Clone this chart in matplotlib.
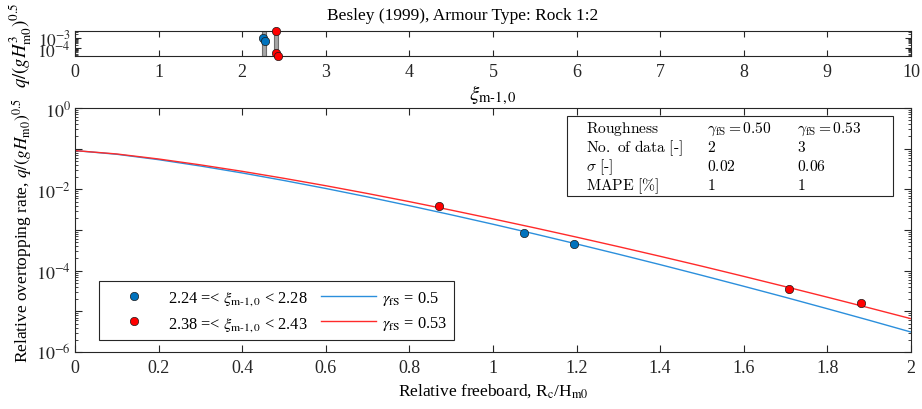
import numpy as np
import matplotlib
matplotlib.use("Agg")
import matplotlib.pyplot as plt
from matplotlib.patches import Rectangle
from matplotlib.ticker import LogLocator, FixedLocator, FuncFormatter, NullFormatter

plt.rcParams['font.family'] = ['Liberation Serif', 'DejaVu Serif']
plt.rcParams['mathtext.fontset'] = 'stix'
plt.rcParams['axes.linewidth'] = 0.8
plt.rcParams['axes.edgecolor'] = '#262626'
plt.rcParams['xtick.color'] = '#262626'
plt.rcParams['ytick.color'] = '#262626'

# curves (relative freeboard -> relative overtopping)
rc_curve = [0.0, 0.1, 0.2, 0.3, 0.4, 0.5, 0.6, 0.7, 0.8, 0.9, 1.0,
            1.1, 1.2, 1.3, 1.4, 1.5, 1.6, 1.7, 1.8, 1.9, 2.0]
q_g050 = [0.09, 0.0730, 0.0538, 0.0376, 0.02535, 0.01654, 0.01052, 0.00653,
          0.00397, 0.00237, 0.00139, 8.02e-4, 4.55e-4, 2.55e-4, 1.41e-4,
          7.68e-5, 4.14e-5, 2.21e-5, 1.16e-5, 6.04e-6, 3.1e-6]
q_g053 = [0.09, 0.0742, 0.0559, 0.0401, 0.0278, 0.0187, 0.0123, 0.00791,
          0.00499, 0.00309, 0.00188, 1.13e-3, 6.69e-4, 3.91e-4, 2.26e-4,
          1.29e-4, 7.25e-5, 4.04e-5, 2.23e-5, 1.22e-5, 6.6e-6]

# measured points
rc_blue = [1.074, 1.193]
q_blue = [8.3e-4, 4.5e-4]
xi_blue = [2.255, 2.27]
rc_red = [0.87, 1.709, 1.880]
q_red = [3.8e-3, 3.45e-5, 1.62e-5]
xi_red = [2.40, 2.40, 2.425]
xi_bins = [(2.24, 2.28), (2.38, 2.43)]

# statistics table (mathtext, computer modern)
table_rows = [r'$\mathrm{Roughness}$', r'$\mathrm{No.\ of\ data\ [\text{-}]}$',
              r'$\sigma\ \mathrm{[\text{-}]}$', r'$\mathrm{MAPE\ [\%]}$']
table_g050 = [r'$\gamma_{\mathrm{fS}} = 0.50$', '$2$', '$0.02$', '$1$']
table_g053 = [r'$\gamma_{\mathrm{fS}} = 0.53$', '$3$', '$0.06$', '$1$']

c_blue = '#0072BD'
c_red = '#FF0000'
c_bline = '#2b8fdc'
c_rline = '#ff2a2a'

fig = plt.figure(figsize=(9.22, 4.10), dpi=100)
ax0 = fig.add_axes([0.0813, 0.860, 0.9067, 0.061])
ax = fig.add_axes([0.0813, 0.139, 0.9067, 0.595])

# ---- top panel: xi vs q ----
ylo, yhi = min(q_red + q_blue), max(q_red + q_blue)
for a, b in xi_bins:
    ax0.add_patch(Rectangle((a, ylo), b - a, yhi - ylo, facecolor='#a6a6a6',
                            edgecolor='#6e6e6e', lw=0.8, zorder=2))
ax0.plot(xi_blue, q_blue, 'o', color=c_blue, mec='#1a1a1a', mew=0.5, ms=6, zorder=3, clip_on=False)
ax0.plot(xi_red, q_red, 'o', color=c_red, mec='#1a1a1a', mew=0.5, ms=6, zorder=3, clip_on=False)
ax0.set_yscale('log')
ax0.set_xlim(0, 10)
ax0.set_ylim(ylo, yhi)
ax0.set_xticks(range(0, 11))
ax0.yaxis.set_major_locator(FixedLocator([1e-4, 1e-3]))
ax0.yaxis.set_major_formatter(FuncFormatter(lambda v, p: r'$10^{%d}$' % round(np.log10(v))))
ax0.yaxis.set_minor_locator(LogLocator(base=10, subs=np.arange(2, 10), numticks=20))
ax0.yaxis.set_minor_formatter(NullFormatter())
ax0.tick_params(direction='in', top=True, right=True, labelsize=13, length=4, pad=5)
ax0.tick_params(axis='y', labelsize=12.5, pad=3)
ax0.tick_params(which='minor', direction='in', right=True, length=2)
ax0.set_title('Besley (1999), Armour Type: Rock 1:2', fontsize=12.5, x=0.464, y=1.0, pad=9)
ax0.set_xlabel(r'$\xi_{\mathrm{m}\text{-}1,0}$', fontsize=15, labelpad=2)
ax0.set_ylabel(r'$q/(gH^3_{\mathrm{m0}})^{0.5}$', fontsize=13.5, labelpad=2)

# ---- main panel ----
ax.plot(rc_blue, q_blue, 'o', color=c_blue, mec='#1a1a1a', mew=0.5, ms=6, zorder=4,
        label=r'2.24 =< $\xi_{\mathrm{m}\text{-}1,0}$ < 2.28')
ax.plot(rc_red, q_red, 'o', color=c_red, mec='#1a1a1a', mew=0.5, ms=6, zorder=4,
        label=r'2.38 =< $\xi_{\mathrm{m}\text{-}1,0}$ < 2.43')
ax.plot(rc_curve, q_g050, '-', color=c_bline, lw=1.0, label=r'$\gamma_{\mathrm{fS}}$ = 0.5')
ax.plot(rc_curve, q_g053, '-', color=c_rline, lw=1.0, label=r'$\gamma_{\mathrm{fS}}$ = 0.53')
ax.set_yscale('log')
ax.set_xlim(0, 2)
ax.set_ylim(1e-6, 1)
ax.set_xticks(np.arange(0, 2.01, 0.2))
ax.xaxis.set_major_formatter(FuncFormatter(lambda v, p: '%g' % round(v, 1)))
ax.yaxis.set_major_locator(FixedLocator([1e-6, 1e-5, 1e-4, 1e-3, 1e-2, 1e-1, 1]))
ax.yaxis.set_major_formatter(FuncFormatter(
    lambda v, p: (r'$10^{%d}$' % round(np.log10(v))) if round(np.log10(v)) % 2 == 0 else ''))
ax.yaxis.set_minor_locator(LogLocator(base=10, subs=np.arange(2, 10), numticks=20))
ax.yaxis.set_minor_formatter(NullFormatter())
ax.tick_params(direction='in', top=True, right=True, labelsize=13, length=5, pad=5)
ax.tick_params(axis='y', pad=3)
ax.tick_params(which='minor', direction='in', right=True, length=2.5)
ax.set_xlabel(r'Relative freeboard, R$_\mathrm{c}$/H$_\mathrm{m0}$', fontsize=12.5, labelpad=4)
ax.set_ylabel(r'Relative overtopping rate, $q/(gH_{\mathrm{m0}})^{0.5}$', fontsize=12.5, labelpad=1)

leg = ax.legend(loc='lower left', bbox_to_anchor=(0.0287, 0.049), borderaxespad=0,
                ncol=2, fontsize=11.8, frameon=True, fancybox=False,
                edgecolor='#262626', framealpha=1,
                handlelength=3.4, columnspacing=0.8, handletextpad=0.35,
                borderpad=0.45, labelspacing=0.45)
leg.get_frame().set_linewidth(0.8)

# statistics box
ax.add_patch(Rectangle((0.589, 0.639), 0.389, 0.328, transform=ax.transAxes,
                       facecolor='white', edgecolor='#262626', lw=0.8, zorder=5))
row_y = [0.918, 0.840, 0.762, 0.684]
for i, y in enumerate(row_y):
    for x, txt in zip([0.611, 0.756, 0.864], [table_rows[i], table_g050[i], table_g053[i]]):
        ax.text(x, y, txt, transform=ax.transAxes, fontsize=11.2,
                math_fontfamily='cm', va='center', ha='left', zorder=6)

fig.savefig('out.png', dpi=100)
